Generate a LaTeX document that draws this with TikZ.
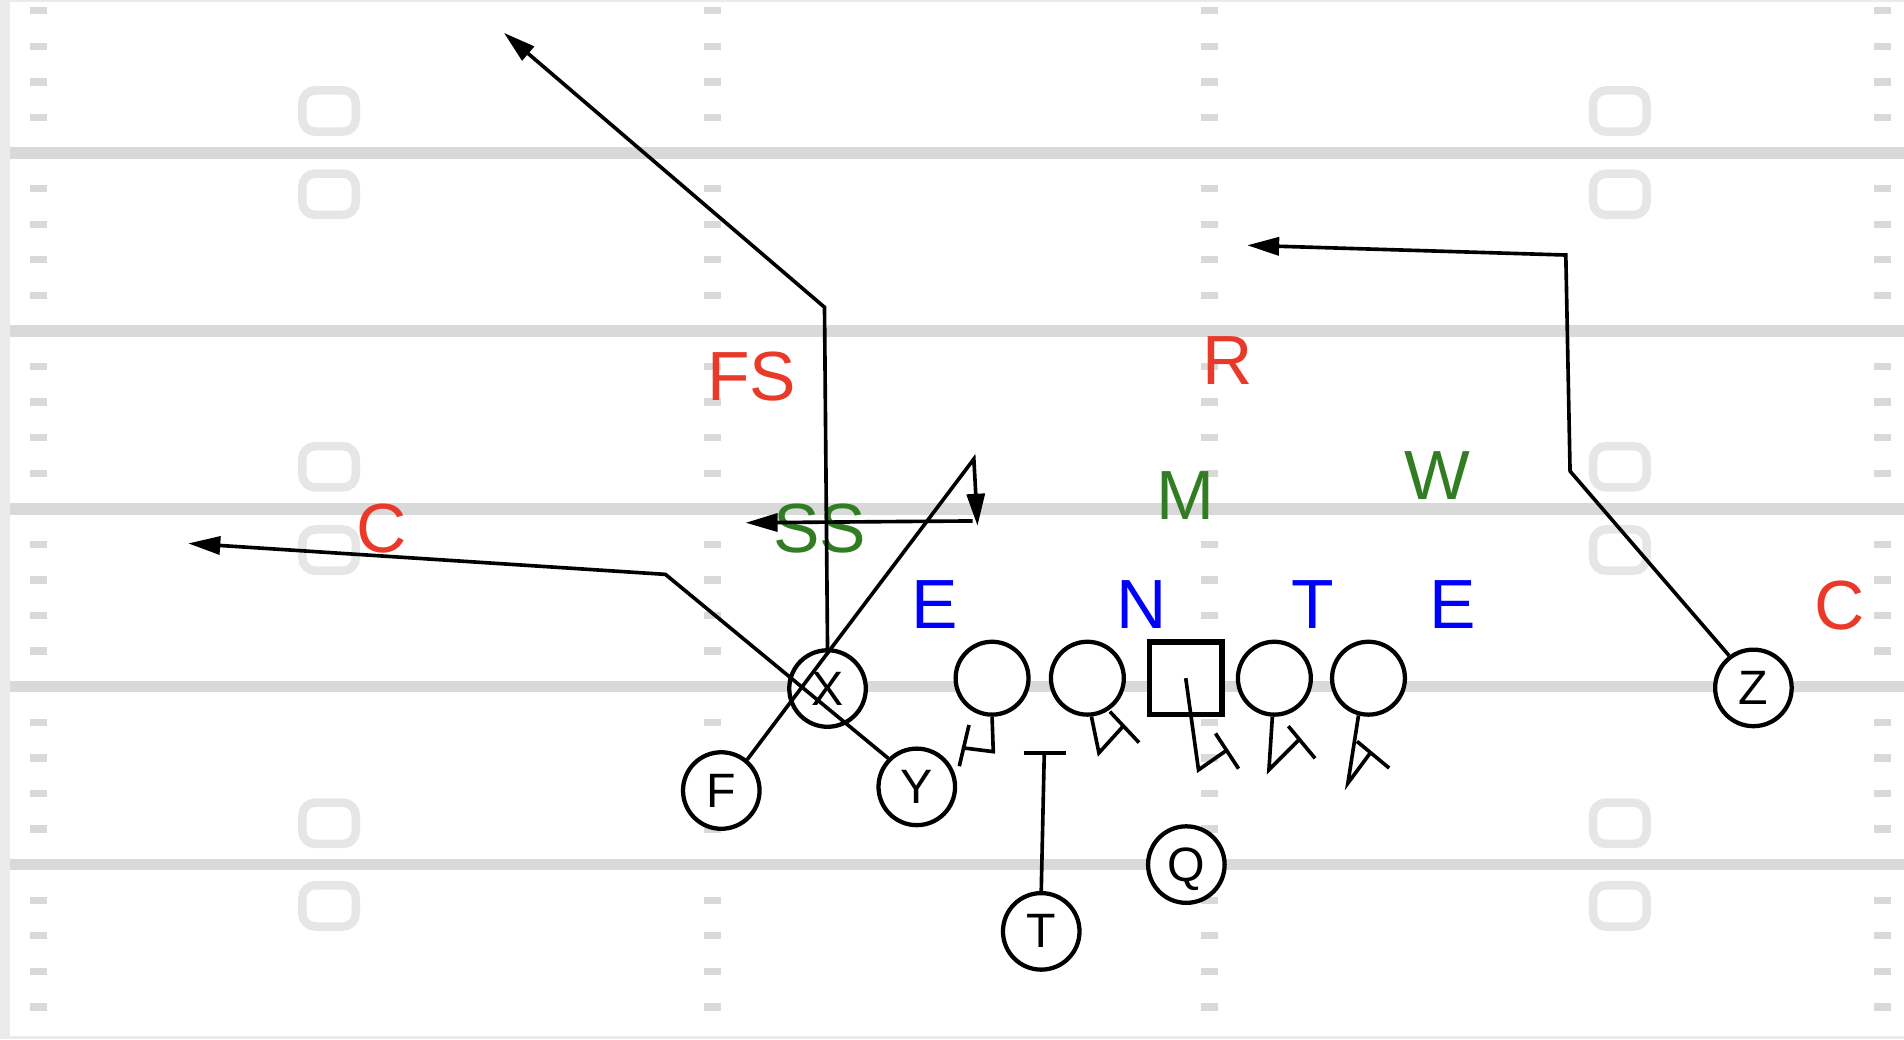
\documentclass[tikz,border=0pt]{standalone}
\usepackage{fontspec}
\setmainfont{Liberation Sans}
\usetikzlibrary{arrows.meta}

\definecolor{fieldgray}{RGB}{217,217,217}
\definecolor{numgray}{RGB}{230,230,230}
\definecolor{edgegray}{RGB}{235,235,235}
\definecolor{defred}{RGB}{232,57,41}
\definecolor{defgreen}{RGB}{50,125,35}
\definecolor{defblue}{RGB}{0,0,255}

\tikzset{
  yardline/.style={fieldgray, line width=2.7pt},
  hashmark/.style={fill=fieldgray},
  numbox/.style={draw=numgray, line width=2pt, rounded corners=3pt},
  player/.style={circle, draw, fill=white, line width=1pt, minimum size=0.63cm,
    inner sep=0pt, text depth=0pt, font=\fontsize{11.3}{13}\selectfont},
  lineman/.style={circle, draw, fill=white, line width=1pt, minimum size=0.6cm, inner sep=0pt},
  snapper/.style={rectangle, draw, fill=white, line width=1.3pt, minimum size=0.6cm, inner sep=0pt},
  deflabel/.style={inner sep=0pt, text depth=0pt, font=\fontsize{16.3}{19}\selectfont},
  route/.style={line width=0.85pt},
  runarrow/.style={route, -{Triangle[length=7.5pt,width=4.2pt]}},
}

\begin{document}
\begin{tikzpicture}[x=0.01cm, y=-0.01cm]
    \useasboundingbox (0,0) rectangle (1568,856);

    % Field
    \fill[edgegray] (0,0) rectangle (8,856);
    \draw[edgegray, line width=0.6pt] (8,0.5) -- (1568,0.5);
    \draw[edgegray, line width=0.8pt] (8,854.5) -- (1568,854.5);
    \foreach \y in {126,272.5,419,565.5,712}
        \draw[yardline] (8,\y) -- (1568,\y);
    \foreach \base in {-20.5,126,272.5,419,565.5,712}
        \foreach \j in {1,2,3,4}
            \foreach \x in {32,587,996,1550}
                \fill[hashmark] (\x-7,\base+29.3*\j-3) rectangle (\x+7,\base+29.3*\j+3);
    \foreach \x in {271,1334}
        \foreach \y in {91.4,160,384.4,453,678,746}
            \draw[numbox] (\x-22,\y-17) rectangle (\x+22,\y+17);

    % Defense
    \node[deflabel, defred] (fs) at (619,310) {FS};
    \node[deflabel, defred] (rover) at (1011,297) {R};
    \node[deflabel, defred] (lcorner) at (314,435) {C};
    \node[deflabel, defred] (rcorner) at (1515,498) {C};
    \node[deflabel, defgreen] (ss) at (675,435) {SS};
    \node[deflabel, defgreen] (mike) at (976.5,408) {M};
    \node[deflabel, defgreen] (will) at (1184,392) {W};
    \node[deflabel, defblue] (lend) at (770,498) {E};
    \node[deflabel, defblue] (nose) at (940,498) {N};
    \node[deflabel, defblue] (tackle) at (1081,498) {T};
    \node[deflabel, defblue] (rend) at (1196,498) {E};

    % Offense
    \node[lineman] (lt) at (817,558.5) {};
    \node[lineman] (lg) at (895.5,558.5) {};
    \node[snapper] (ctr) at (976.5,558.5) {};
    \node[lineman] (rg) at (1049.5,558.5) {};
    \node[lineman] (rt) at (1127,558.5) {};
    \node[player] (xrec) at (681.5,567) {X};
    \node[player] (fback) at (594,651) {F};
    \node[player] (ytight) at (755,648) {Y};
    \node[player] (tback) at (857.5,767) {T};
    \node[player] (qb) at (977,712) {Q};
    \node[player] (zrec) at (1444,566.5) {Z};

    % Routes
    \coordinate (xcut) at (679,253);
    \coordinate (xend) at (415,27);
    \draw[runarrow] (xrec.north) -- (xcut) -- (xend);
    \coordinate (fcut) at (802,378);
    \coordinate (fend) at (805,433);
    \draw[runarrow] (fback.50) -- (fcut) -- (fend);
    \coordinate (sstart) at (801,429);
    \coordinate (send) at (614,430.5);
    \draw[runarrow] (sstart) -- (send);
    \coordinate (ycut) at (548,473);
    \coordinate (yend) at (155,447.5);
    \draw[runarrow] (ytight.135) -- (ycut) -- (yend);
    \coordinate (zcut) at (1293,388);
    \coordinate (zturn) at (1289.5,210);
    \coordinate (zend) at (1027,202);
    \draw[runarrow] (zrec.127) -- (zcut) -- (zturn) -- (zend);

    % Blocks
    \draw[route] (lt.south) -- (818,619) -- (794,616);
    \draw[route] (798,597) -- (790,631);
    \draw[route] (lg.-84) -- (905,620) -- (925,598);
    \draw[route] (914,586) -- (938,611.5);
    \draw[route] (ctr.center) -- (987,634) -- (1010,618);
    \draw[route] (1001,604) -- (1020,633);
    \draw[route] (rg.-93) -- (1045,634) -- (1070,609);
    \draw[route] (1061,598) -- (1083,624.5);
    \draw[route] (rt.-105) -- (1110,645) -- (1128.5,620);
    \draw[route] (1117.5,610.5) -- (1144,632.5);
    \draw[route] (tback.north) -- (860,620);
    \draw[route] (843,620) -- (878,620);

\end{tikzpicture}
\end{document}
